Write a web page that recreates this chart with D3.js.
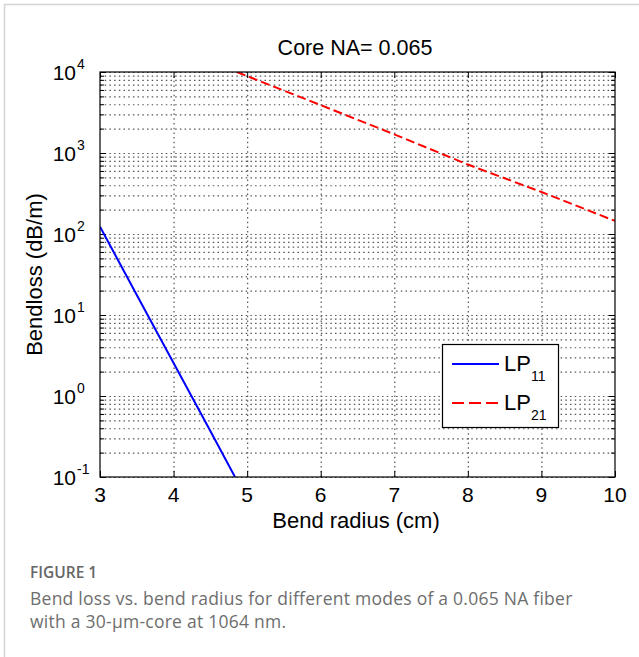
<!DOCTYPE html>
<html>
<head>
<meta charset="utf-8">
<script src="https://cdn.jsdelivr.net/npm/d3@7"></script>
<style>
  html, body { margin: 0; padding: 0; background: #fff; }
  svg { display: block; }
  .grid line { stroke: #555; stroke-width: 1.2; stroke-dasharray: 1.5,3.2; }
  .grid path { display: none; }
  .ticks path { display: none; }
  .ticks line { stroke: #000; stroke-width: 1; }
</style>
</head>
<body>
<div id="chart"></div>
<script>
// Data (bend loss in dB/m vs bend radius in cm)
const lp11Radius = [3, 3.5, 4, 4.5, 4.835];
const lp11Loss = [123, 17.7, 2.55, 0.37, 0.1];
const lp21Radius = [4.86, 5, 6, 7, 8, 9, 10];
const lp21Loss = [10000, 8900, 3900, 1700, 720, 330, 145];

const xTicks = [3, 4, 5, 6, 7, 8, 9, 10];
const yExponents = [-1, 0, 1, 2, 3, 4];

const titleText = 'Core NA= 0.065';
const xLabel = 'Bend radius (cm)';
const yLabel = 'Bendloss (dB/m)';
const captionHead = 'FIGURE 1';
const captionLines = [
  'Bend loss vs. bend radius for different modes of a 0.065 NA fiber',
  'with a 30-\u00b5m-core at 1064 nm.'
];

const width = 639;
const height = 657;
const plot = { left: 100, top: 72, right: 615, bottom: 477 };
const axisFont = '"Liberation Sans", Arial, Helvetica, sans-serif';

const svg = d3.select('#chart').append('svg')
  .attr('width', width)
  .attr('height', height);

// light outer frame of the figure panel
svg.append('rect')
  .attr('x', 4.5).attr('y', 4.5)
  .attr('width', 660).attr('height', 700)
  .attr('fill', 'none')
  .attr('stroke', '#d4d4d4')
  .attr('stroke-width', 1.5);

const x = d3.scaleLinear().domain([3, 10]).range([plot.left, plot.right]);
const y = d3.scaleLog().domain([0.1, 10000]).range([plot.bottom, plot.top]);

const pw = plot.right - plot.left;
const ph = plot.bottom - plot.top;

// minor + major values on the log axis
const yMajor = yExponents.map(e => Math.pow(10, e));
const yMinor = [];
yExponents.slice(0, -1).forEach(e => {
  for (let k = 2; k <= 9; k++) yMinor.push(k * Math.pow(10, e));
});
const yAll = yMajor.concat(yMinor);

// gridlines
svg.append('g')
  .attr('class', 'grid')
  .attr('transform', `translate(${plot.left},0)`)
  .call(d3.axisLeft(y).tickValues(yAll).tickFormat('').tickSize(-pw));

svg.append('g')
  .attr('class', 'grid')
  .attr('transform', `translate(0,${plot.bottom})`)
  .call(d3.axisBottom(x).tickValues(xTicks.slice(1, -1)).tickFormat('').tickSize(-ph));

// inward tick marks on all four sides
svg.append('g').attr('class', 'ticks')
  .attr('transform', `translate(0,${plot.bottom})`)
  .call(d3.axisBottom(x).tickValues(xTicks).tickFormat('').tickSize(-6));
svg.append('g').attr('class', 'ticks')
  .attr('transform', `translate(0,${plot.top})`)
  .call(d3.axisTop(x).tickValues(xTicks).tickFormat('').tickSize(-6));
svg.append('g').attr('class', 'ticks')
  .attr('transform', `translate(${plot.left},0)`)
  .call(d3.axisLeft(y).tickValues(yMajor).tickFormat('').tickSize(-6));
svg.append('g').attr('class', 'ticks')
  .attr('transform', `translate(${plot.left},0)`)
  .call(d3.axisLeft(y).tickValues(yMinor).tickFormat('').tickSize(-4));
svg.append('g').attr('class', 'ticks')
  .attr('transform', `translate(${plot.right},0)`)
  .call(d3.axisRight(y).tickValues(yMajor).tickFormat('').tickSize(-6));
svg.append('g').attr('class', 'ticks')
  .attr('transform', `translate(${plot.right},0)`)
  .call(d3.axisRight(y).tickValues(yMinor).tickFormat('').tickSize(-4));

// clip for data lines
svg.append('clipPath').attr('id', 'clip')
  .append('rect')
  .attr('x', plot.left).attr('y', plot.top)
  .attr('width', pw).attr('height', ph);

const line = d3.line()
  .x(d => x(d[0]))
  .y(d => y(d[1]));

svg.append('path')
  .datum(d3.zip(lp11Radius, lp11Loss))
  .attr('clip-path', 'url(#clip)')
  .attr('d', line)
  .attr('fill', 'none')
  .attr('stroke', '#0000ff')
  .attr('stroke-width', 2);

svg.append('path')
  .datum(d3.zip(lp21Radius, lp21Loss))
  .attr('clip-path', 'url(#clip)')
  .attr('d', line)
  .attr('fill', 'none')
  .attr('stroke', '#ff0000')
  .attr('stroke-width', 2)
  .attr('stroke-dasharray', '9,4');

// plot frame
svg.append('rect')
  .attr('x', plot.left).attr('y', plot.top)
  .attr('width', pw).attr('height', ph)
  .attr('fill', 'none')
  .attr('stroke', '#000')
  .attr('stroke-width', 1.2);

// x tick labels
svg.append('g')
  .selectAll('text')
  .data(xTicks)
  .join('text')
  .attr('x', d => x(d))
  .attr('y', 502)
  .attr('text-anchor', 'middle')
  .style('font-family', axisFont)
  .style('font-size', '21px')
  .text(d => d);

// y tick labels, 10 with superscript exponent
const yLab = svg.append('g')
  .selectAll('text')
  .data(yExponents)
  .join('text')
  .attr('x', 76)
  .attr('y', d => y(Math.pow(10, d)) + 8)
  .attr('text-anchor', 'end')
  .style('font-family', axisFont)
  .style('font-size', '21px')
  .text('10');
yLab.each(function (d) {
  d3.select(this.parentNode).append('text')
    .attr('x', 77)
    .attr('y', y(Math.pow(10, d)) - 3)
    .style('font-family', axisFont)
    .style('font-size', '14px')
    .text(d);
});

// title and axis labels
svg.append('text')
  .attr('x', 355).attr('y', 55)
  .attr('text-anchor', 'middle')
  .style('font-family', axisFont)
  .style('font-size', '21.5px')
  .text(titleText);

svg.append('text')
  .attr('x', 356).attr('y', 528)
  .attr('text-anchor', 'middle')
  .style('font-family', axisFont)
  .style('font-size', '22px')
  .text(xLabel);

svg.append('text')
  .attr('transform', `translate(42,${(plot.top + plot.bottom) / 2}) rotate(-90)`)
  .attr('text-anchor', 'middle')
  .style('font-family', axisFont)
  .style('font-size', '22px')
  .text(yLabel);

// legend
const legend = svg.append('g');
legend.append('rect')
  .attr('x', 442.5).attr('y', 344.5)
  .attr('width', 116).attr('height', 83)
  .attr('fill', '#fff')
  .attr('stroke', '#000')
  .attr('stroke-width', 1.2);

const legendItems = [
  { name: 'LP', sub: '11', color: '#0000ff', dash: null, y: 364 },
  { name: 'LP', sub: '21', color: '#ff0000', dash: '12,5', y: 403 }
];
legendItems.forEach(item => {
  legend.append('line')
    .attr('x1', 452).attr('x2', 499)
    .attr('y1', item.y).attr('y2', item.y)
    .attr('stroke', item.color)
    .attr('stroke-width', 2)
    .attr('stroke-dasharray', item.dash);
  const t = legend.append('text')
    .attr('x', 504).attr('y', item.y + 7)
    .style('font-family', axisFont)
    .style('font-size', '22px')
    .text(item.name);
  t.append('tspan')
    .attr('dy', 10)
    .style('font-size', '14px')
    .text(item.sub);
});

// caption below the figure
const capFont = '"Open Sans", Lato, sans-serif';
svg.append('text')
  .attr('x', 30).attr('y', 578)
  .style('font-family', capFont)
  .style('font-size', '15.5px')
  .style('font-weight', 600)
  .attr('fill', '#666')
  .text(captionHead);

svg.append('g')
  .selectAll('text')
  .data(captionLines)
  .join('text')
  .attr('x', 30)
  .attr('y', (d, i) => 605 + i * 23)
  .style('font-family', capFont)
  .style('font-size', '17.5px')
  .style('letter-spacing', '0.25px')
  .style('font-weight', 400)
  .attr('fill', '#6e6e6e')
  .text(d => d);
</script>
</body>
</html>
